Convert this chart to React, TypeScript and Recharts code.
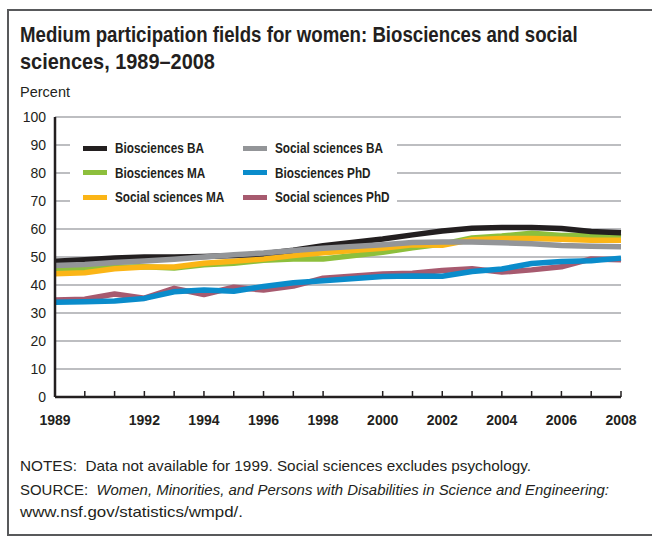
import React from 'react';
import { LineChart, Line, XAxis, YAxis, CartesianGrid, Legend } from 'recharts';

const years = [1989, 1990, 1991, 1992, 1993, 1994, 1995, 1996, 1997, 1998, 1999, 2000, 2001, 2002, 2003, 2004, 2005, 2006, 2007, 2008];
const bioBA = [48.5, 49, 49.6, 50, 50, 50.2, 50.5, 51.2, 52.4, 54, null, 56.4, 57.9, 59.3, 60.3, 60.5, 60.5, 60.2, 59.1, 58.7];
const socBA = [47, 47.3, 48, 48.6, 49.2, 50, 50.8, 51.4, 52.3, 53.1, null, 54.4, 55.2, 55.4, 55.4, 55.1, 54.7, 54.1, 53.8, 53.7];
const bioMA = [45.4, 45.8, 46.3, 46.5, 46.1, 47.2, 47.8, 48.8, 49.3, 49.3, null, 51.7, 53.3, 54.6, 56.8, 57.5, 58.5, 57.7, 57.8, 57.2];
const socMA = [44, 44.4, 45.8, 46.4, 46.4, 47.8, 48.5, 49.3, 50.5, 51.5, null, 53.1, 54.4, 54.2, 56.2, 56.6, 56.6, 56.3, 56, 56];
const bioPhD = [33.8, 34, 34.3, 35.2, 37.6, 38.2, 37.8, 39.5, 40.8, 41.5, null, 43, 43.2, 43.1, 44.8, 45.7, 47.7, 48.4, 48.7, 49.6];
const socPhD = [34.6, 34.9, 36.8, 35.3, 38.8, 36.6, 39.2, 38.2, 39.6, 42.4, null, 43.9, 44.2, 45.2, 45.8, 44.6, 45.4, 46.5, 49.3, 49];

const yTicks = [0, 10, 20, 30, 40, 50, 60, 70, 80, 90, 100];
const xLabelYears = [1989, 1992, 1994, 1996, 1998, 2000, 2002, 2004, 2006, 2008];
const xTickYears = [1989, 1990, 1991, 1992, 1993, 1994, 1995, 1996, 1997, 1998, 2000, 2001, 2002, 2003, 2004, 2005, 2006, 2007, 2008];

const titleLines = ['Medium participation fields for women: Biosciences and social', 'sciences, 1989–2008'];
const yAxisTitle = 'Percent';
const notesText = 'NOTES:\u00a0 Data not available for 1999. Social sciences excludes psychology.';
const sourceLabel = 'SOURCE:\u00a0 ';
const sourceTitle = 'Women, Minorities, and Persons with Disabilities in Science and Engineering:';
const sourceUrl = 'www.nsf.gov/statistics/wmpd/.';

const series = [
  { key: 'bioBA', name: 'Biosciences BA', color: '#231f20', values: bioBA },
  { key: 'socBA', name: 'Social sciences BA', color: '#939598', values: socBA },
  { key: 'bioMA', name: 'Biosciences MA', color: '#8dbf3c', values: bioMA },
  { key: 'bioPhD', name: 'Biosciences PhD', color: '#0a8ccb', values: bioPhD },
  { key: 'socMA', name: 'Social sciences MA', color: '#fbb516', values: socMA },
  { key: 'socPhD', name: 'Social sciences PhD', color: '#a75a6f', values: socPhD },
];
const drawOrder = ['socPhD', 'bioPhD', 'bioMA', 'socMA', 'bioBA', 'socBA'];

const data = years.map((year, i) => {
  const row: Record<string, number | null> = { year };
  series.forEach((s) => { row[s.key] = s.values[i]; });
  return row;
});

const FONT = "'Liberation Sans', Arial, sans-serif";
const TEXT = '#231f20';

const XTick = (props: any) => {
  const { x, y, payload } = props;
  const v = payload.value;
  return (
    <g>
      {v !== 1989 && <line x1={x} x2={x} y1={y} y2={y - 6} stroke={TEXT} strokeWidth={1.5} />}
      {xLabelYears.includes(v) && (
        <text x={x} y={y + 28} textAnchor="middle" fontFamily={FONT} fontSize={14} fontWeight="bold" fill={TEXT}>
          {v}
        </text>
      )}
    </g>
  );
};

const renderLegend = () => (
  <div style={{ background: '#fff', width: 327, height: 76, position: 'relative', fontFamily: FONT }}>
    {series.map((s, i) => {
      const col = i % 2;
      const row = Math.floor(i / 2);
      return (
        <div key={s.key} style={{ position: 'absolute', left: col === 0 ? 13 : 173, top: 3 + row * 24.5, height: 22, display: 'flex', alignItems: 'center', whiteSpace: 'nowrap' }}>
          <div style={{ width: 24, height: 5, background: s.color, marginRight: 8 }} />
          <span style={{ display: 'inline-block', fontSize: 15.5, fontWeight: 'bold', color: TEXT, transform: 'scaleX(0.76)', transformOrigin: 'left center' }}>{s.name}</span>
        </div>
      );
    })}
  </div>
);

export default function App() {
  return (
    <div style={{ position: 'absolute', left: 0, top: 0, width: 652, height: 537, overflow: 'hidden', background: '#fff', fontFamily: FONT, color: TEXT }}>
      <div style={{ position: 'absolute', left: 7, top: 9, width: 700, height: 527, boxSizing: 'border-box', border: '2px solid #58595b' }} />
      <svg width={652} height={110} style={{ position: 'absolute', left: 0, top: 0 }}>
        <text transform="translate(20,42) scale(0.87,1)" x={0} y={0} fontFamily={FONT} fontSize={21.5} fontWeight="bold" fill={TEXT} textLength={641} lengthAdjust="spacingAndGlyphs">{titleLines[0]}</text>
        <text transform="translate(20,69) scale(0.87,1)" x={0} y={0} fontFamily={FONT} fontSize={21.5} fontWeight="bold" fill={TEXT} textLength={224} lengthAdjust="spacingAndGlyphs">{titleLines[1]}</text>
        <text x={20} y={97} fontFamily={FONT} fontSize={15} fill={TEXT} textLength={50} lengthAdjust="spacingAndGlyphs">{yAxisTitle}</text>
      </svg>
      <div style={{ position: 'absolute', left: 0, top: 0 }}>
        <LineChart width={652} height={430} data={data} margin={{ top: 117, right: 31, bottom: 0, left: 0 }}>
          <CartesianGrid horizontal vertical={false} stroke="#a7a9ac" strokeWidth={1.5} />
          <XAxis
            dataKey="year"
            type="number"
            domain={[1989, 2008]}
            ticks={xTickYears}
            interval={0}
            height={33}
            tickSize={0}
            tickMargin={0}
            tickLine={false}
            axisLine={{ stroke: TEXT, strokeWidth: 2.5 }}
            tick={<XTick />}
          />
          <YAxis
            domain={[0, 100]}
            ticks={yTicks}
            interval={0}
            width={55}
            tickSize={0}
            tickMargin={9}
            tickLine={false}
            axisLine={{ stroke: TEXT, strokeWidth: 2.5 }}
            tick={{ fontFamily: FONT, fontSize: 14, fill: TEXT }}
          />
          <Legend
            layout="horizontal"
            verticalAlign="middle"
            align="center"
            content={renderLegend}
            wrapperStyle={{ position: 'absolute', left: 70, top: 134, width: 327, height: 76 }}
          />
          {drawOrder.map((k) => {
            const s = series.find((x) => x.key === k)!;
            return (
              <Line
                key={k}
                type="linear"
                dataKey={k}
                name={s.name}
                stroke={s.color}
                strokeWidth={5.5}
                dot={false}
                activeDot={false}
                connectNulls
                strokeLinejoin="round"
                isAnimationActive={false}
              />
            );
          })}
        </LineChart>
      </div>
      <svg width={652} height={80} style={{ position: 'absolute', left: 0, top: 450 }}>
        <text x={20} y={21} fontFamily={FONT} fontSize={15} fill={TEXT} textLength={511} lengthAdjust="spacingAndGlyphs">{notesText}</text>
        <text x={20} y={45} fontFamily={FONT} fontSize={15} fill={TEXT} textLength={589} lengthAdjust="spacingAndGlyphs">
          {sourceLabel}<tspan fontStyle="italic">{sourceTitle}</tspan>
        </text>
        <text x={20} y={67} fontFamily={FONT} fontSize={15} fill={TEXT} textLength={223} lengthAdjust="spacingAndGlyphs">{sourceUrl}</text>
      </svg>
    </div>
  );
}
